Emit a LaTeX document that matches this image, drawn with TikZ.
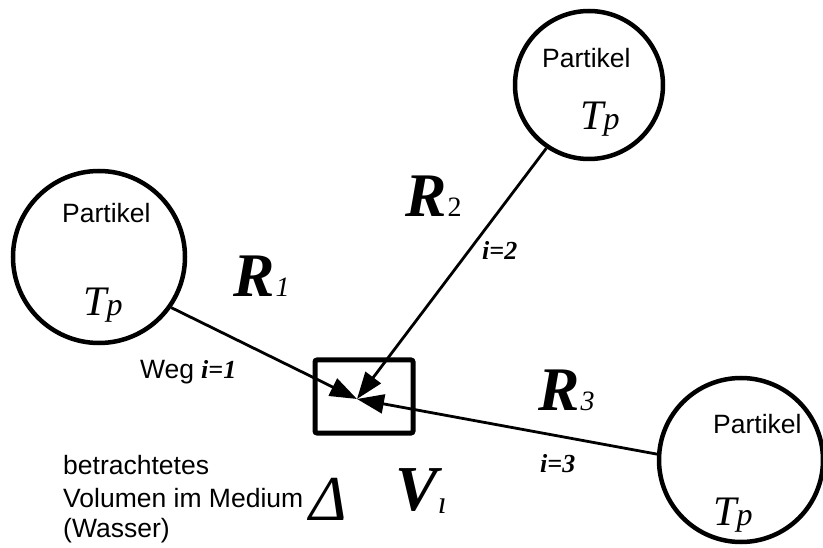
\documentclass[tikz,border=0pt]{standalone}
\usepackage{fontspec}
\setmainfont{Liberation Serif}
\newfontfamily\arialf{Liberation Sans}
\usetikzlibrary{arrows.meta}
\begin{document}
\begin{tikzpicture}[x=1pt,y=-1pt,
  partikel/.style={circle,draw,line width=4.5pt,inner sep=0pt},
  conn/.style={line width=2.8pt,-{Triangle[length=27pt,width=19pt]}},
  lbl/.style={inner sep=0pt,anchor=base west},
  sans/.style={font=\fontsize{26.5}{31}\selectfont\arialf},
  tp/.style={lbl,font=\fontsize{42}{42}\selectfont\itshape},
  rlbl/.style={lbl,font=\fontsize{62}{62}\selectfont\bfseries\itshape},
  ilbl/.style={lbl,font=\fontsize{26}{26}\selectfont\bfseries\itshape}]
\useasboundingbox (0,0) rectangle (823,548);
% particles
\node[partikel,minimum size=172pt] (c1) at (99,257) {};
\node[partikel,minimum size=148pt] (c2) at (589,85) {};
\node[partikel,minimum size=164pt] (c3) at (741,460) {};
% volume box
\node[draw,line width=5pt,rounded corners=2pt,minimum width=98pt,minimum height=73pt,inner sep=0pt] (box) at (364,396.5) {};
\coordinate (tip) at (357,399);
% connectors
\draw[conn] (c1.-35) -- (tip);
\draw[conn] (c2.236) -- (tip);
\draw[conn] (c3.176) -- (tip);
% texts in particles
\node[lbl,sans] (p1) at (62,223) {Partikel};
\node[lbl,sans] (p2) at (542,68) {Partikel};
\node[lbl,sans] (p3) at (713,433) {Partikel};
\node[tp] (t1) at (83,316) {T{\fontsize{32}{32}\selectfont p}};
\node[tp] (t2) at (580,130) {T{\fontsize{32}{32}\selectfont p}};
\node[tp] (t3) at (713,525) {T{\fontsize{32}{32}\selectfont p}};
% R labels
\node[rlbl] (r1) at (233,297) {R\kern1pt{\fontsize{28}{28}\selectfont\mdseries 1}};
\node[rlbl] (r2) at (405,217) {R\kern1pt{\fontsize{28}{28}\selectfont\mdseries\upshape 2}};
\node[rlbl] (r3) at (538,410) {R\kern1pt{\fontsize{28}{28}\selectfont\mdseries 3}};
% path labels
\node[lbl] (w1) at (140,378) {{\fontsize{26.5}{26.5}\selectfont\arialf Weg}\hspace{7pt}{\fontsize{26}{26}\selectfont\bfseries\itshape i=1}};
\node[ilbl] (i2) at (482,260) {i=2};
\node[ilbl] (i3) at (540,472) {i=3};
% bottom left description
\node[lbl,sans] (b1) at (63,475) {betrachtetes};
\node[lbl,sans] (b2) at (63,507) {Volumen im Medium};
\node[lbl,sans] (b3) at (63,537) {(Wasser)};
\node[lbl,font=\fontsize{64}{64}\selectfont\itshape] (delta) at (309,520) {Δ};
\node[lbl,font=\fontsize{64}{64}\selectfont\bfseries\itshape] (vi) at (395,510) {V{\fontsize{32}{32}\selectfont\mdseries\raisebox{-3pt}{ı}}};
\end{tikzpicture}
\end{document}
